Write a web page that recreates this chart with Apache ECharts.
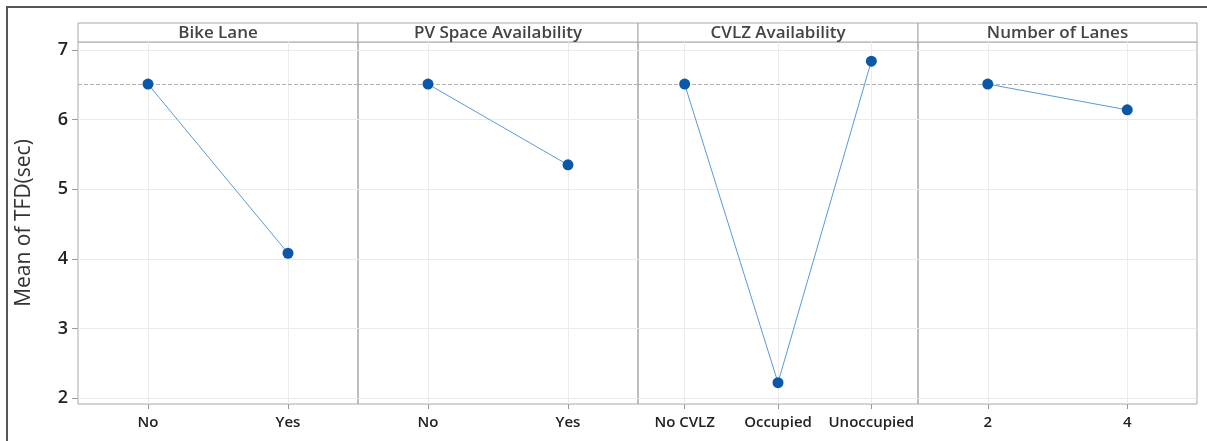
<!DOCTYPE html>
<html>
<head>
<meta charset="utf-8">
<script src="https://cdn.jsdelivr.net/npm/echarts@6/dist/echarts.min.js"></script>
<style>
  html, body { margin: 0; padding: 0; background: #fff; }
  #chart { width: 1207px; height: 441px; }
</style>
</head>
<body>
<div id="chart"></div>
<script>
// factor names (panel headers)
const factors = ['Bike Lane', 'PV Space Availability', 'CVLZ Availability', 'Number of Lanes']

// levels of each factor
const bikeLaneLevels = ['No', 'Yes']
const pvSpaceLevels = ['No', 'Yes']
const cvlzLevels = ['No CVLZ', 'Occupied', 'Unoccupied']
const laneLevels = ['2', '4']

// mean TFD (sec) for each level
const bikeLaneMeans = [6.51, 4.08]
const pvSpaceMeans = [6.51, 5.35]
const cvlzMeans = [6.51, 2.22, 6.84]
const laneMeans = [6.51, 6.14]

const grandMean = 6.51
const yTicks = [2, 3, 4, 5, 6, 7]

const levels = [bikeLaneLevels, pvSpaceLevels, cvlzLevels, laneLevels]
const means = [bikeLaneMeans, pvSpaceMeans, cvlzMeans, laneMeans]

const font = '"Open Sans", "Noto Sans", sans-serif'
const panelLeft = 78
const panelWidth = 280
const panelTop = 42
const panelHeight = 362
const stripTop = 23

const grid = []
const xAxis = []
const yAxis = []
const series = []
const graphic = [
  {
    type: 'rect',
    shape: { x: 7, y: 7, width: 1220, height: 460 },
    style: { fill: 'none', stroke: '#555', lineWidth: 2 },
    silent: true,
  },
]

factors.forEach((name, i) => {
  const left = panelLeft + i * panelWidth
  const width = i === 3 ? panelWidth - 1 : panelWidth

  grid.push({
    left,
    top: panelTop,
    width,
    height: panelHeight,
    show: true,
    borderColor: '#a8a8a8',
    borderWidth: 1,
  })

  xAxis.push({
    type: 'category',
    gridIndex: i,
    data: levels[i],
    boundaryGap: true,
    axisLine: { show: false },
    axisTick: { show: true, alignWithLabel: true, length: 5, lineStyle: { color: '#999' } },
    axisLabel: {
      interval: 0,
      color: '#222',
      fontFamily: font,
      fontSize: 15,
      fontWeight: 600,
      margin: 11,
    },
    splitLine: { show: true, alignWithLabel: true, lineStyle: { color: '#ebebeb' } },
  })

  yAxis.push({
    type: 'value',
    gridIndex: i,
    min: 1.914,
    max: 7.115,
    splitNumber: 5,
    axisLine: { show: false },
    axisTick: {
      show: i === 0,
      length: 6,
      lineStyle: { color: '#999' },
      customValues: yTicks,
    },
    axisLabel: {
      show: i === 0,
      color: '#222',
      fontFamily: font,
      fontSize: 18,
      fontWeight: 600,
      margin: 10,
      customValues: yTicks,
    },
    splitLine: { show: true, lineStyle: { color: '#ebebeb' } },
    name: i === 0 ? 'Mean of TFD(sec)' : '',
    nameLocation: 'middle',
    nameGap: 43,
    nameTextStyle: { color: '#333', fontFamily: font, fontSize: 21 },
  })

  series.push({
    type: 'line',
    xAxisIndex: i,
    yAxisIndex: i,
    data: means[i],
    symbol: 'circle',
    symbolSize: 11,
    itemStyle: { color: '#0b57a8' },
    lineStyle: { color: '#5b9bd5', width: 1 },
    emphasis: { disabled: true },
    z: 3,
    markLine: {
      silent: true,
      symbol: 'none',
      label: { show: false },
      lineStyle: { color: '#b0b0b0', type: 'dashed', width: 1 },
      data: [{ yAxis: grandMean }],
      z: 1,
    },
  })

  // header strip
  graphic.push({
    type: 'rect',
    shape: { x: left, y: stripTop, width, height: panelTop - stripTop },
    style: { fill: '#fff', stroke: '#a8a8a8', lineWidth: 1 },
    silent: true,
  })
  graphic.push({
    type: 'text',
    x: left + width / 2,
    y: stripTop + (panelTop - stripTop) / 2 + 1,
    style: {
      text: name,
      fill: '#444',
      font: `600 17px ${font}`,
      textAlign: 'center',
      textVerticalAlign: 'middle',
    },
    silent: true,
  })
})

const chart = echarts.init(document.getElementById('chart'))
chart.setOption({
  animation: false,
  backgroundColor: '#fff',
  grid,
  xAxis,
  yAxis,
  series,
  graphic,
})
</script>
</body>
</html>
